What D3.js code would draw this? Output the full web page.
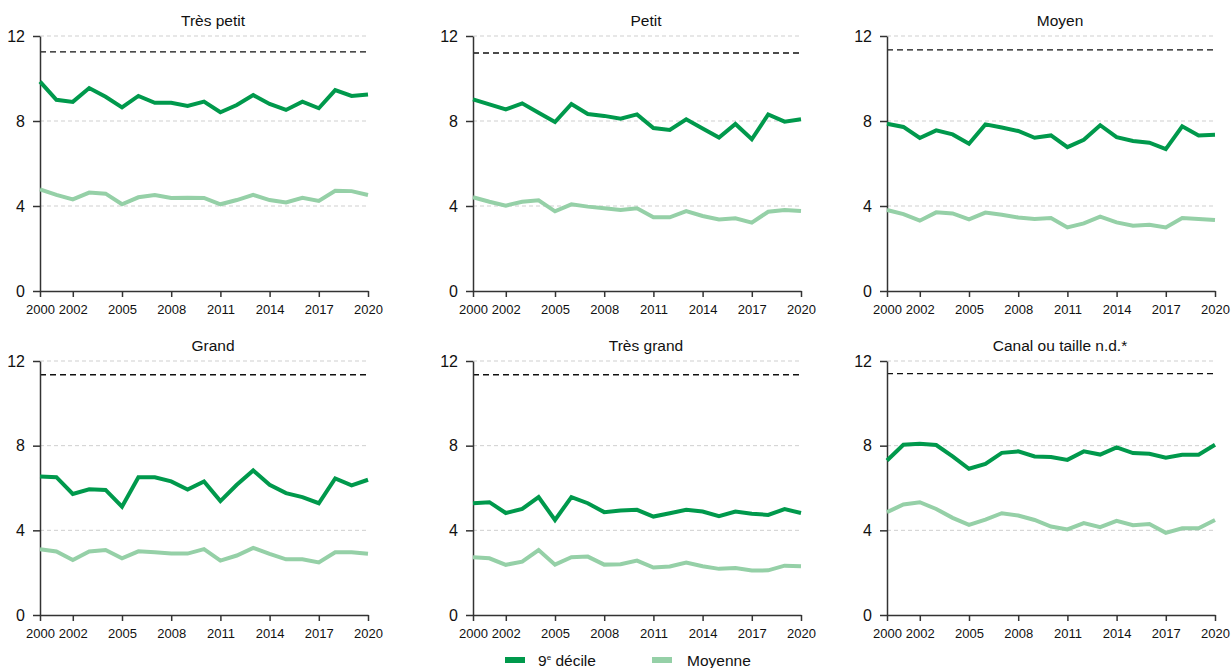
<!DOCTYPE html>
<html>
<head>
<meta charset="utf-8">
<script src="https://cdn.jsdelivr.net/npm/d3@7"></script>
<style>
  body { margin: 0; background: #fff; }
  svg { font-family: "Liberation Sans", Arial, Helvetica, sans-serif; }
</style>
</head>
<body>
<script>
// --- data ---
const years = d3.range(2000, 2021);
const xTickYears = [2000, 2002, 2005, 2008, 2011, 2014, 2017, 2020];
const yTicks = [0, 4, 8, 12];
const panelTitles = ["Très petit", "Petit", "Moyen", "Grand", "Très grand", "Canal ou taille n.d.*"];
const seriesNames = ["9e décile", "Moyenne"];

const decile9 = [
  [9.85, 9.0, 8.9, 9.55, 9.14, 8.64, 9.18, 8.86, 8.86, 8.71, 8.91, 8.41, 8.75, 9.22, 8.8, 8.52, 8.91, 8.6, 9.45, 9.18, 9.25],
  [9.02, 8.78, 8.55, 8.83, 8.39, 7.95, 8.8, 8.33, 8.24, 8.11, 8.31, 7.67, 7.58, 8.08, 7.65, 7.22, 7.86, 7.14, 8.31, 7.97, 8.08],
  [7.87, 7.72, 7.2, 7.56, 7.37, 6.93, 7.84, 7.69, 7.53, 7.21, 7.32, 6.77, 7.12, 7.8, 7.24, 7.06, 6.98, 6.68, 7.75, 7.32, 7.35],
  [6.54, 6.51, 5.72, 5.94, 5.91, 5.12, 6.51, 6.51, 6.31, 5.93, 6.31, 5.38, 6.15, 6.83, 6.15, 5.76, 5.57, 5.28, 6.45, 6.12, 6.39],
  [5.28, 5.33, 4.82, 5.01, 5.57, 4.49, 5.57, 5.28, 4.86, 4.94, 4.97, 4.65, 4.81, 4.97, 4.89, 4.67, 4.89, 4.78, 4.73, 5.0, 4.82],
  [7.3, 8.04, 8.09, 8.03, 7.49, 6.91, 7.14, 7.66, 7.73, 7.49, 7.46, 7.33, 7.73, 7.58, 7.92, 7.65, 7.62, 7.43, 7.57, 7.57, 8.04]
];
const moyenne = [
  [4.78, 4.52, 4.31, 4.63, 4.58, 4.08, 4.41, 4.52, 4.38, 4.39, 4.38, 4.08, 4.28, 4.52, 4.28, 4.17, 4.39, 4.24, 4.72, 4.7, 4.52],
  [4.41, 4.2, 4.02, 4.2, 4.27, 3.75, 4.08, 3.97, 3.89, 3.81, 3.89, 3.47, 3.47, 3.76, 3.53, 3.37, 3.42, 3.22, 3.73, 3.81, 3.76],
  [3.81, 3.62, 3.31, 3.7, 3.65, 3.37, 3.69, 3.59, 3.46, 3.39, 3.43, 2.99, 3.18, 3.5, 3.23, 3.07, 3.12, 2.99, 3.43, 3.39, 3.34],
  [3.11, 3.0, 2.6, 3.0, 3.07, 2.68, 3.01, 2.96, 2.9, 2.9, 3.11, 2.57, 2.81, 3.17, 2.89, 2.63, 2.63, 2.48, 2.96, 2.96, 2.89],
  [2.73, 2.68, 2.37, 2.52, 3.07, 2.38, 2.73, 2.76, 2.38, 2.4, 2.57, 2.24, 2.29, 2.48, 2.3, 2.18, 2.22, 2.1, 2.11, 2.33, 2.3],
  [4.86, 5.22, 5.33, 5.01, 4.59, 4.26, 4.51, 4.81, 4.7, 4.49, 4.18, 4.04, 4.34, 4.15, 4.45, 4.24, 4.3, 3.88, 4.1, 4.1, 4.49]
];
const seuil = [11.25, 11.2, 11.35, 11.35, 11.35, 11.4];

// --- layout ---
const width = 1232, height = 668;
const colLeft = [40, 473, 887];
const rowTop = [36, 361];
const panelW = 328, rowH = [255, 254];
const darkGreen = "#00994c", lightGreen = "#95d0a7", axisColor = "#333";

const svg = d3.select("body").append("svg")
  .attr("width", width)
  .attr("height", height);

const x = d3.scaleLinear().domain([2000, 2020]).range([0, panelW]);

panelTitles.forEach((title, p) => {
  const row = Math.floor(p / 3);
  const panelH = rowH[row];
  const y = d3.scaleLinear().domain([0, 12]).range([panelH, 0]);
  const line = d3.line()
    .x((d, i) => x(years[i]))
    .y(d => y(d));

  const g = svg.append("g")
    .attr("transform", `translate(${colLeft[p % 3]}, ${rowTop[row]})`);

  // gridlines
  g.selectAll(".grid")
    .data(yTicks.filter(t => t > 0))
    .enter().append("line")
    .attr("x1", 0).attr("x2", panelW)
    .attr("y1", d => y(d)).attr("y2", d => y(d))
    .attr("stroke", "#cfcfcf")
    .attr("stroke-width", 1)
    .attr("stroke-dasharray", "4,3");

  // dashed reference line
  g.append("line")
    .attr("x1", 0).attr("x2", panelW)
    .attr("y1", y(seuil[p])).attr("y2", y(seuil[p]))
    .attr("stroke", "#111")
    .attr("stroke-width", 1.3)
    .attr("stroke-dasharray", "6,4");

  // axes
  const yAxis = g.append("g")
    .call(d3.axisLeft(y).tickValues(yTicks).tickSize(7).tickSizeOuter(0).tickPadding(8));
  yAxis.selectAll("text").style("font-size", "16px").attr("fill", "#111");

  const xAxis = g.append("g")
    .attr("transform", `translate(0, ${panelH})`)
    .call(d3.axisBottom(x).tickValues(xTickYears).tickFormat(d3.format("d")).tickSize(6).tickSizeOuter(0).tickPadding(8));
  xAxis.selectAll("text").style("font-size", "13px").attr("fill", "#111");

  [yAxis, xAxis].forEach(a => {
    a.select(".domain").attr("stroke", axisColor).attr("stroke-width", 1.5);
    a.selectAll(".tick line").attr("stroke", axisColor).attr("stroke-width", 1.5);
  });

  // series
  g.append("path")
    .datum(moyenne[p])
    .attr("d", line)
    .attr("fill", "none")
    .attr("stroke", lightGreen)
    .attr("stroke-width", 4);

  g.append("path")
    .datum(decile9[p])
    .attr("d", line)
    .attr("fill", "none")
    .attr("stroke", darkGreen)
    .attr("stroke-width", 4);

  // title
  g.append("text")
    .attr("x", panelW / 2 + 9)
    .attr("y", -10)
    .attr("text-anchor", "middle")
    .style("font-size", "15.5px")
    .attr("fill", "#111")
    .text(title);
});

// Legend
const legend = svg.append("g").attr("transform", "translate(505, 660)");
const legendX = [0, 147];
const legendColors = [darkGreen, lightGreen];

seriesNames.forEach((name, i) => {
  const entry = legend.append("g").attr("transform", `translate(${legendX[i]}, 0)`);
  entry.append("rect")
    .attr("x", 0).attr("y", -3)
    .attr("width", 20).attr("height", 6)
    .attr("fill", legendColors[i]);
  const t = entry.append("text")
    .attr("x", i === 0 ? 33 : 35)
    .attr("y", 6)
    .style("font-size", "15.5px")
    .attr("fill", "#111");
  if (i === 0) {
    t.append("tspan").text("9");
    t.append("tspan").attr("dy", -6).style("font-size", "8px").text("e");
    t.append("tspan").attr("dy", 6).text(" décile");
  } else {
    t.text(name);
  }
});
</script>
</body>
</html>
